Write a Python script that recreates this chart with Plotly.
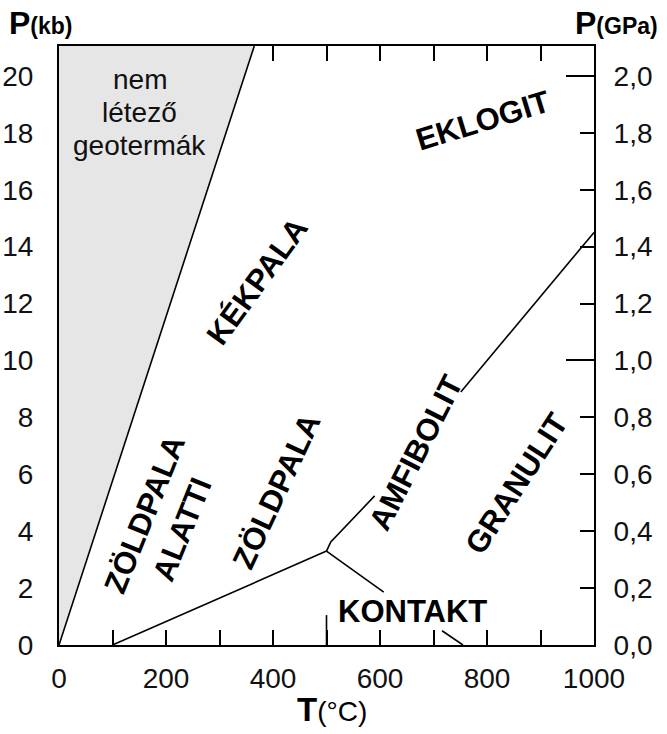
import plotly.graph_objects as go

# ---------------- data ----------------
T_RANGE = [0, 1000]
P_RANGE = [0, 21.05]           # kbar
GPA_RANGE = [0, 2.105]         # GPa

x_ticks = [0, 200, 400, 600, 800, 1000]
y_ticks_kb = [0, 2, 4, 6, 8, 10, 12, 14, 16, 18, 20]
y_ticks_gpa = [0.0, 0.2, 0.4, 0.6, 0.8, 1.0, 1.2, 1.4, 1.6, 1.8, 2.0]
y_ticktext_gpa = ["0,0", "0,2", "0,4", "0,6", "0,8", "1,0", "1,2", "1,4", "1,6", "1,8", "2,0"]
top_ticks = [400, 500, 600, 700, 800, 900]
gpa_major = [1.0, 2.0]

# forbidden geotherm region (grey)
geo_T = [0, 365, 0]
geo_P = [0, 21.05, 21.05]
geo_edge_T = [0, 365]
geo_edge_P = [0, 21.05]

# facies boundaries (segments)
boundaries = [
    ([100, 500], [0.0, 3.3]),
    ([500, 508, 590], [3.3, 3.62, 5.24]),
    ([751, 1000], [8.89, 14.5]),
    ([500, 607], [3.3, 1.86]),
    ([716, 755], [0.5, 0.0]),
    ([500, 500], [0.0, 1.05]),
]

# facies labels: text, T, P, angle
labels = [
    ("EKLOGIT", 793, 18.42, -17),
    ("KÉKPALA", 370, 12.79, -54),
    ("ZÖLDPALA<br>ALATTI", 194, 4.32, -68),
    ("ZÖLDPALA", 407, 5.38, -65),
    ("AMFIBOLIT", 667, 6.78, -63),
    ("GRANULIT", 856, 5.66, -57),
    ("KONTAKT", 660, 1.16, 0),
]
geo_lines = ["nem", "létező", "geotermák"]
geo_label_T, geo_label_P = 151, 18.7

FONT = "Liberation Sans, Arial, sans-serif"

fig = go.Figure()

fig.add_trace(go.Scatter(x=geo_T, y=geo_P, fill="toself", fillcolor="#e6e6e6",
                         line=dict(width=0), mode="lines", hoverinfo="skip", showlegend=False))
fig.add_trace(go.Scatter(x=geo_edge_T, y=geo_edge_P, mode="lines",
                         line=dict(color="black", width=1.6), showlegend=False))
for bt, bp in boundaries:
    fig.add_trace(go.Scatter(x=bt, y=bp, mode="lines",
                             line=dict(color="black", width=1.6), showlegend=False))

# dummy traces to activate overlay axes
fig.add_trace(go.Scatter(x=[None], y=[None], xaxis="x2", yaxis="y2", showlegend=False))
fig.add_trace(go.Scatter(x=[None], y=[None], xaxis="x", yaxis="y3", showlegend=False))

for text, t, p, ang in labels:
    fig.add_annotation(x=t, y=p, xref="x", yref="y", text=f"<b>{text}</b>", showarrow=False,
                       textangle=ang, font=dict(family=FONT, size=31, color="black"))
for i, line in enumerate(geo_lines):
    fig.add_annotation(x=geo_label_T, y=geo_label_P, xref="x", yref="y", text=line,
                       yshift=(1 - i) * 33, showarrow=False,
                       font=dict(family=FONT, size=28, color="#111"))

# axis titles
fig.add_annotation(x=-0.0972, y=1.0384, xref="paper", yref="paper", xanchor="left", yanchor="middle",
                   text="<b><span style='font-size:32px'>P</span>(kb)</b>", showarrow=False,
                   font=dict(family=FONT, size=23, color="black"))
fig.add_annotation(x=1.1234, y=1.0384, xref="paper", yref="paper", xanchor="right", yanchor="middle",
                   text="<b><span style='font-size:32px'>P</span>(GPa)</b>", showarrow=False,
                   font=dict(family=FONT, size=23, color="black"))
fig.add_annotation(x=0.51, y=-0.1085, xref="paper", yref="paper", xanchor="center", yanchor="middle",
                   text="<b><span style='font-size:33px'>T</span></b>(°C)", showarrow=False,
                   font=dict(family=FONT, size=28, color="black"))

tickfont = dict(family=FONT, size=28, color="#111")
fig.update_layout(
    width=667, height=734,
    margin=dict(l=59, r=73, t=46, b=89, autoexpand=False),
    plot_bgcolor="white", paper_bgcolor="white",
    showlegend=False,
    xaxis=dict(range=T_RANGE, tickvals=x_ticks, ticks="inside", ticklen=15, tickwidth=2,
               tickcolor="black", showline=True, linecolor="black", linewidth=2,
               showgrid=False, zeroline=False, tickfont=tickfont, ticklabelstandoff=7,
               minor=dict(dtick=100, ticks="inside", ticklen=15, tickwidth=2, tickcolor="black"),
               automargin=False),
    xaxis2=dict(range=T_RANGE, overlaying="x", side="top", anchor="y", tickvals=top_ticks,
                ticks="inside", ticklen=15, tickwidth=2, tickcolor="black", showticklabels=False,
                showline=True, linecolor="black", linewidth=2, showgrid=False, zeroline=False,
                automargin=False),
    yaxis=dict(range=P_RANGE, tickvals=y_ticks_kb, ticks="", showline=True, linecolor="black",
               linewidth=2, showgrid=False, zeroline=False, tickfont=tickfont,
               ticklabelstandoff=18, automargin=False),
    yaxis2=dict(range=GPA_RANGE, overlaying="y", side="right", anchor="x", tickvals=y_ticks_gpa,
                ticktext=y_ticktext_gpa, ticks="inside", ticklen=14, tickwidth=2, tickcolor="black",
                showline=True, linecolor="black", linewidth=2, showgrid=False, zeroline=False,
                tickfont=tickfont, ticklabelstandoff=12, automargin=False),
    yaxis3=dict(range=GPA_RANGE, overlaying="y", side="right", anchor="x", tickvals=gpa_major,
                ticks="inside", ticklen=28, tickwidth=2, tickcolor="black", showticklabels=False,
                showline=False, showgrid=False, zeroline=False, automargin=False),
)

fig.write_html("out.html")
